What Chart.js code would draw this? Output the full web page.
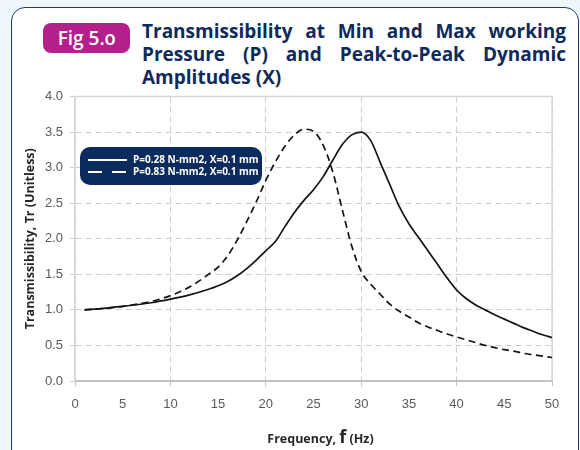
<!DOCTYPE html>
<html>
<head>
<meta charset="utf-8">
<script src="https://cdn.jsdelivr.net/npm/chart.js@4.4.1/dist/chart.umd.min.js"></script>
<style>
  html, body { margin: 0; padding: 0; }
  body { width: 580px; height: 450px; background: #eef7fb; position: relative; overflow: hidden; }
  .panel {
    position: absolute; left: 11px; top: 7px; width: 566px; height: 470px;
    background: #fff; border: 1.5px solid #163f78; border-radius: 14px;
  }
  .badge {
    position: absolute; left: 43px; top: 23px; width: 87px; height: 30px;
    background: #b51f8c; border-radius: 8px; color: #fff;
    font: 600 19px "Open Sans", sans-serif; line-height: 30px; text-align: center;
  }
  .badge .o { font-feature-settings: "onum"; }
  .title {
    position: absolute; left: 142px; top: 20px; width: 424px;
    font: 700 19px "Open Sans", sans-serif; line-height: 23px; color: #0e2a5c;
  }
  .title .row { display: flex; justify-content: space-between; white-space: nowrap; }
  #chart { position: absolute; left: 0; top: 0; }
</style>
</head>
<body>
<div class="panel"></div>
<div class="badge">Fig 5.<span class="o">0</span></div>
<div class="title">
  <div class="row"><span>Transmissibility</span><span>at</span><span>Min</span><span>and</span><span>Max</span><span>working</span></div>
  <div class="row"><span>Pressure</span><span>(P)</span><span>and</span><span>Peak-to-Peak</span><span>Dynamic</span></div>
  <div>Amplitudes (X)</div>
</div>
<canvas id="chart" width="580" height="450"></canvas>
<script>
// Frequency (Hz) and transmissibility for both working pressures
const frequency = [1, 3, 5, 8, 10, 12, 14, 15, 16, 17, 18, 19, 20, 21, 22, 23, 24, 25, 26, 27, 28, 29, 30,
  31, 32, 33, 34, 35, 36, 37, 38, 39, 40, 41, 42, 43, 44, 45, 46, 47, 48, 49, 50];
const trMinPressure = [1.00, 1.02, 1.05, 1.10, 1.15, 1.21, 1.29, 1.34, 1.40, 1.48, 1.58, 1.70, 1.83, 1.96, 2.17,
  2.37, 2.54, 2.69, 2.87, 3.10, 3.32, 3.46, 3.50, 3.38, 3.07, 2.76, 2.45, 2.21, 2.02, 1.83, 1.64, 1.45, 1.28,
  1.16, 1.07, 1.00, 0.93, 0.87, 0.81, 0.75, 0.70, 0.65, 0.61];
const trMaxPressure = [1.00, 1.02, 1.05, 1.12, 1.20, 1.32, 1.50, 1.60, 1.76, 1.98, 2.24, 2.52, 2.82, 3.08, 3.30,
  3.46, 3.54, 3.51, 3.32, 2.95, 2.42, 1.90, 1.54, 1.36, 1.22, 1.08, 0.98, 0.90, 0.82, 0.76, 0.71, 0.66, 0.62,
  0.58, 0.54, 0.50, 0.47, 0.44, 0.42, 0.39, 0.37, 0.35, 0.33];
const seriesLabels = ['P=0.28 N-mm2, X=0.1 mm', 'P=0.83 N-mm2, X=0.1 mm'];

const gridGray = '#cdcdcd';
const frameGray = '#d6d6d6';
const navy = '#0b2b5f';

const toPoints = (ys) => frequency.map((f, i) => ({ x: f, y: ys[i] }));

// Light frame around the plot area (top/right/left)
const plotFrame = {
  id: 'plotFrame',
  beforeDatasetsDraw(chart) {
    const { ctx, chartArea: a } = chart;
    ctx.save();
    ctx.strokeStyle = frameGray;
    ctx.lineWidth = 1.5;
    ctx.beginPath();
    ctx.moveTo(a.left, a.bottom);
    ctx.lineTo(a.left, a.top);
    ctx.lineTo(a.right, a.top);
    ctx.lineTo(a.right, a.bottom);
    ctx.stroke();
    ctx.restore();
  },
};

// Rounded navy legend inside the plot
const boxLegend = {
  id: 'boxLegend',
  afterDatasetsDraw(chart) {
    const { ctx, chartArea: a } = chart;
    const x = a.left + 5, y = a.top + 50.5, w = 182, h = 38;
    ctx.save();
    ctx.fillStyle = navy;
    ctx.beginPath();
    ctx.roundRect(x, y, w, h, 10);
    ctx.fill();
    ctx.font = 'bold 10px "Open Sans", sans-serif';
    ctx.textBaseline = 'middle';
    chart.data.datasets.forEach((ds, i) => {
      const ly = y + 13 + i * 12;
      ctx.strokeStyle = '#fff';
      ctx.lineWidth = 1.8;
      ctx.setLineDash(i === 0 ? [] : [14, 10]);
      ctx.beginPath();
      ctx.moveTo(x + 8, ly);
      ctx.lineTo(x + 47, ly);
      ctx.stroke();
      ctx.fillStyle = '#fff';
      ctx.fillText(ds.label, x + 53, ly + 0.5);
    });
    ctx.restore();
  },
};

// X axis title, the "f" set larger than the rest
const xTitle = {
  id: 'xTitle',
  afterDraw(chart) {
    const { ctx, chartArea: a } = chart;
    const parts = [
      { t: 'Frequency, ', f: 'bold 12.5px "Open Sans", sans-serif' },
      { t: 'f', f: 'bold 18px "Open Sans", sans-serif' },
      { t: ' (Hz)', f: 'bold 12.5px "Open Sans", sans-serif' },
    ];
    ctx.save();
    let total = 0;
    parts.forEach(p => { ctx.font = p.f; p.w = ctx.measureText(p.t).width; total += p.w; });
    let cx = (a.left + a.right) / 2 + 7 - total / 2;
    ctx.fillStyle = '#262626';
    ctx.textBaseline = 'alphabetic';
    parts.forEach(p => { ctx.font = p.f; ctx.fillText(p.t, cx, 443); cx += p.w; });
    ctx.restore();
  },
};

new Chart(document.getElementById('chart'), {
  type: 'line',
  data: {
    datasets: [
      {
        label: seriesLabels[0],
        data: toPoints(trMinPressure),
        borderColor: '#141414',
        borderWidth: 1.7,
        pointRadius: 0,
        cubicInterpolationMode: 'monotone',
      },
      {
        label: seriesLabels[1],
        data: toPoints(trMaxPressure),
        borderColor: '#141414',
        borderWidth: 1.7,
        borderDash: [7, 4.5],
        pointRadius: 0,
        cubicInterpolationMode: 'monotone',
      },
    ],
  },
  options: {
    responsive: false,
    animation: false,
    layout: { padding: { top: 96.5, right: 28, bottom: 29, left: 0 } },
    scales: {
      x: {
        type: 'linear',
        min: 0,
        max: 50,
        afterFit: (s) => { s.height = 40; },
        border: { display: true, color: '#c2c2c2', width: 2, dash: [6, 4] },
        grid: {
          color: (c) => (c.tick && c.tick.value % 10 === 0 ? gridGray : 'rgba(0,0,0,0)'),
          tickColor: (c) => (c.tick && c.tick.value % 10 === 0 ? '#c2c2c2' : 'rgba(0,0,0,0)'),
          tickLength: 5,
        },
        ticks: {
          stepSize: 5,
          padding: 11,
          color: '#595959',
          font: { family: '"Liberation Sans", Arial, sans-serif', size: 13 },
        },
      },
      y: {
        min: 0,
        max: 4,
        afterFit: (s) => { s.width = 75; },
        border: { display: true, color: frameGray, width: 1.5, dash: [6, 4] },
        grid: { color: gridGray, tickLength: 5, tickBorderDash: [5, 0] },
        ticks: {
          stepSize: 0.5,
          padding: 7,
          color: '#595959',
          font: { family: '"Liberation Sans", Arial, sans-serif', size: 13 },
          callback: (v) => v.toFixed(1),
        },
        title: {
          display: true,
          text: 'Transmissibility, Tr (Unitless)',
          color: '#262626',
          font: { family: '"Open Sans", sans-serif', size: 12.5, weight: 'bold' },
          padding: { top: 23 },
        },
      },
    },
    plugins: {
      legend: { display: false },
      tooltip: { enabled: false },
    },
  },
  plugins: [plotFrame, boxLegend, xTitle],
});
</script>
</body>
</html>
